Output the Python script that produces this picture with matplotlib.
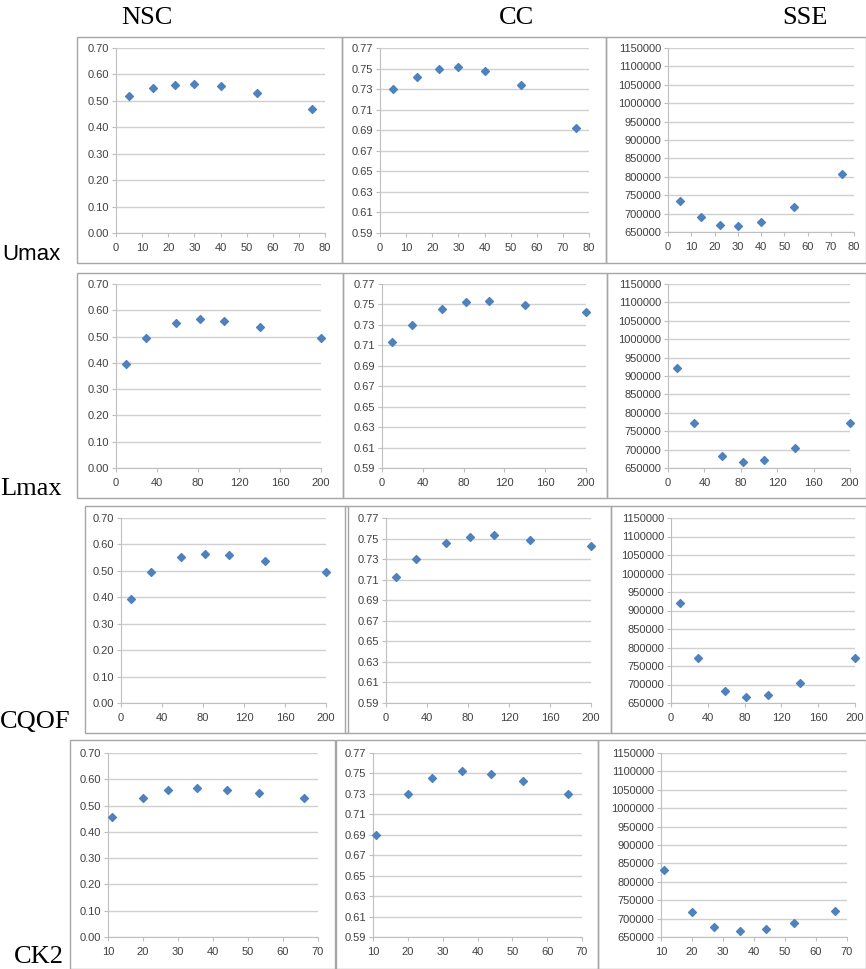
import numpy as np
import matplotlib
matplotlib.use("Agg")
import matplotlib.pyplot as plt
from matplotlib.patches import Rectangle

W, H = 866, 969

# ------- Data -------
umax_x = [5, 14, 22.5, 30, 40, 54, 75]
umax_nsc = [0.518, 0.548, 0.560, 0.565, 0.555, 0.530, 0.470]
umax_cc = [0.730, 0.742, 0.750, 0.752, 0.748, 0.734, 0.692]
umax_sse = [735000, 690000, 670000, 665000, 678000, 717000, 808000]

lmax_x = [10, 29, 59, 82, 105, 140, 200]
lmax_nsc = [0.395, 0.495, 0.552, 0.565, 0.560, 0.538, 0.495]
lmax_cc = [0.713, 0.730, 0.746, 0.752, 0.753, 0.749, 0.743]
lmax_sse = [921000, 771000, 682000, 665000, 672000, 705000, 771000]

cqof_x = [10, 29, 59, 82, 105, 140, 200]
cqof_nsc = [0.395, 0.495, 0.552, 0.565, 0.560, 0.538, 0.495]
cqof_cc = [0.713, 0.730, 0.746, 0.752, 0.753, 0.749, 0.743]
cqof_sse = [921000, 771000, 682000, 665000, 672000, 705000, 771000]

ck2_x = [11, 20, 27, 35.5, 44, 53, 66]
ck2_nsc = [0.455, 0.530, 0.558, 0.565, 0.560, 0.548, 0.528]
ck2_cc = [0.690, 0.730, 0.746, 0.752, 0.749, 0.743, 0.730]
ck2_sse = [833000, 717000, 677000, 665000, 672000, 689000, 721000]

row_names = ['Umax', 'Lmax', 'CQOF', 'CK2']
col_names = ['NSC', 'CC', 'SSE']

rows = [
    (umax_x, [umax_nsc, umax_cc, umax_sse]),
    (lmax_x, [lmax_nsc, lmax_cc, lmax_sse]),
    (cqof_x, [cqof_nsc, cqof_cc, cqof_sse]),
    (ck2_x, [ck2_nsc, ck2_cc, ck2_sse]),
]

x_ticks = [np.arange(0, 81, 10), np.arange(0, 201, 40),
           np.arange(0, 201, 40), np.arange(10, 71, 10)]
y_ticks = [np.arange(0, 0.701, 0.1), np.arange(0.59, 0.7701, 0.02),
           np.arange(650000, 1150001, 50000)]
y_fmt = ['{:.2f}', '{:.2f}', '{:.0f}']

# ------ Layout (pixels) ------
# frame boxes: (x0, y0, x1, y1)
frames = [
    [(77, 37, 342, 263), (342, 37, 606, 263), (606, 37, 866, 263)],
    [(77, 273, 343, 498), (343, 273, 607, 498), (607, 273, 866, 498)],
    [(85, 506, 348, 733), (345, 506, 611, 733), (611, 506, 866, 733)],
    [(70, 740, 335, 969), (336, 740, 598, 969), (598, 740, 866, 969)],
]
# plot areas: (x_left, x_right, y_top, y_bottom)
plots = [
    [(116, 325, 48, 233), (380, 589, 48, 233), (668, 854, 48, 232)],
    [(116, 321, 284, 468), (382, 586, 284, 468), (668, 850, 284, 468)],
    [(121, 326, 518, 703), (386, 591, 518, 703), (671, 855, 518, 703)],
    [(108, 318, 753, 937), (373, 582, 753, 937), (661, 847, 753, 937)],
]

fig = plt.figure(figsize=(W / 100, H / 100), dpi=100)

for r in range(4):
    for c in range(3):
        x0, y0, x1, y1 = frames[r][c]
        fig.patches.append(Rectangle((x0 / W, 1 - y1 / H), (x1 - x0) / W, (y1 - y0) / H,
                                     transform=fig.transFigure, fill=False,
                                     edgecolor='#A6A6A6', linewidth=1.0))

for r, (xs, series) in enumerate(rows):
    for c in range(3):
        xl, xr, yt, yb = plots[r][c]
        ax = fig.add_axes([xl / W, 1 - yb / H, (xr - xl) / W, (yb - yt) / H])
        ax.scatter(xs, series[c], marker='D', s=16, color='#4F81BD', zorder=3, clip_on=False)
        ax.set_xlim(x_ticks[r][0], x_ticks[r][-1])
        ax.set_ylim(y_ticks[c][0], y_ticks[c][-1])
        ax.set_xticks(x_ticks[r])
        ax.set_yticks(y_ticks[c])
        ax.set_yticklabels([y_fmt[c].format(v) for v in y_ticks[c]])
        ax.yaxis.grid(True, color='#D0D0D0', linewidth=1.0)
        ax.set_axisbelow(True)
        for s in ['top', 'right']:
            ax.spines[s].set_visible(False)
        for s in ['left', 'bottom']:
            ax.spines[s].set_color('#BFBFBF')
        ax.tick_params(axis='both', colors='#BFBFBF', labelcolor='#404040',
                       labelsize=8, length=3, width=0.8, pad=3)
        ax.tick_params(axis='y', length=3, pad=2)
        ax.tick_params(axis='x', direction='out', pad=4)
        for lab in ax.get_xticklabels() + ax.get_yticklabels():
            lab.set_fontfamily('Liberation Sans')

# column titles
for c, (name, xc) in enumerate(zip(col_names, [147, 516, 805])):
    fig.text(xc / W, 1 - 18 / H, name, ha='center', va='center',
             fontsize=19, family='Liberation Serif')

# row labels
fig.text(2 / W, 1 - 255 / H, 'Umax', ha='left', va='center', fontsize=16, family='Liberation Sans')
fig.text(0 / W, 1 - 489 / H, 'Lmax', ha='left', va='center', fontsize=19, family='Liberation Serif')
fig.text(0 / W, 1 - 722 / H, 'CQOF', ha='left', va='center', fontsize=19, family='Liberation Serif')
fig.text(14 / W, 1 - 957 / H, 'CK2', ha='left', va='center', fontsize=19, family='Liberation Serif')

fig.savefig('out.png', dpi=100)
